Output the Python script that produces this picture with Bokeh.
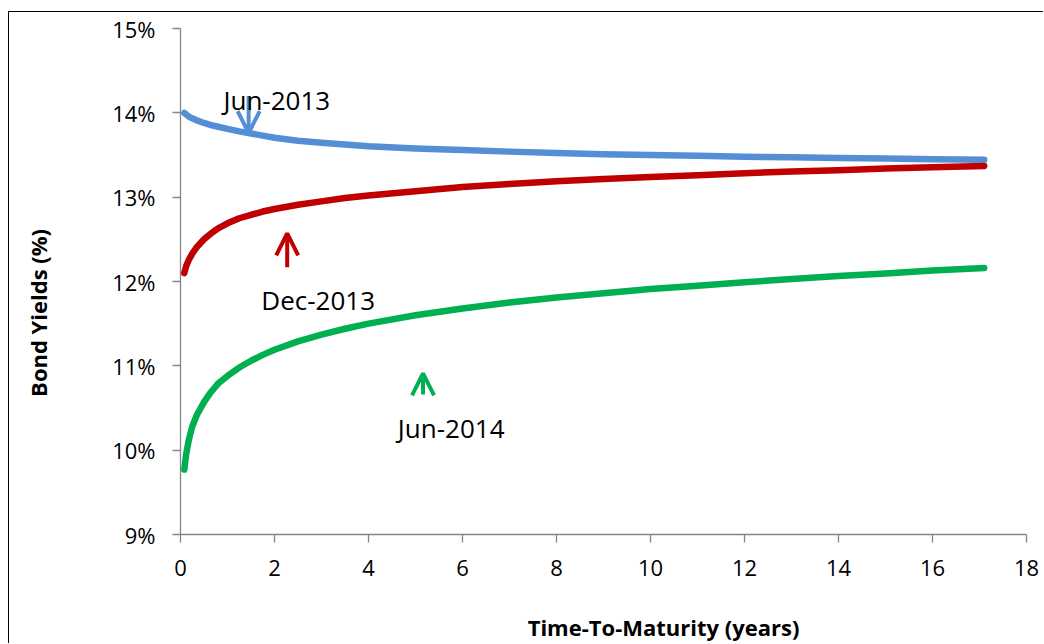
from bokeh.plotting import figure
from bokeh.models import Range1d, Arrow, OpenHead, Label, FixedTicker, PrintfTickFormatter
from bokeh.embed import file_html
from bokeh.resources import INLINE

# Time to maturity (years) at which the yield curves are sampled
maturity = [0.08, 0.12, 0.18, 0.25, 0.35, 0.5, 0.65, 0.8, 1.0, 1.25, 1.5, 1.75,
            2.0, 2.5, 3.0, 3.5, 4.0, 5.0, 6.0, 7.0, 8.0, 9.0, 10.0, 11.0, 12.0,
            13.0, 14.0, 15.0, 16.0, 17.1]

# Bond yields (%) for each curve date
yield_jun_2013 = [14.00, 13.98, 13.955, 13.935, 13.91, 13.88, 13.855, 13.835, 13.81,
                  13.78, 13.755, 13.73, 13.705, 13.67, 13.645, 13.625, 13.605, 13.578,
                  13.558, 13.54, 13.525, 13.51, 13.50, 13.49, 13.48, 13.472, 13.465,
                  13.458, 13.451, 13.445]
yield_dec_2013 = [12.10, 12.18, 12.26, 12.33, 12.41, 12.50, 12.57, 12.63, 12.69,
                  12.75, 12.79, 12.83, 12.86, 12.91, 12.95, 12.99, 13.02, 13.07,
                  13.12, 13.155, 13.19, 13.215, 13.24, 13.26, 13.285, 13.305, 13.32,
                  13.34, 13.355, 13.37]
yield_jun_2014 = [9.77, 9.95, 10.13, 10.28, 10.42, 10.57, 10.69, 10.79, 10.88, 10.98,
                  11.06, 11.13, 11.19, 11.29, 11.37, 11.44, 11.50, 11.60, 11.68,
                  11.75, 11.81, 11.86, 11.91, 11.95, 11.99, 12.03, 12.065, 12.095,
                  12.13, 12.16]

series_names = ["Jun-2013", "Dec-2013", "Jun-2014"]
series_colors = ["#558ED5", "#C00000", "#00B050"]

x_ticks = [0, 2, 4, 6, 8, 10, 12, 14, 16, 18]
y_ticks = [9, 10, 11, 12, 13, 14, 15]

x_title = "Time-To-Maturity (years)"
y_title = "Bond Yields (%)"

FONT = "Open Sans"
NBSP = "\u00a0"

p = figure(width=1035, height=632,
           x_range=Range1d(0, 18), y_range=Range1d(9, 15),
           output_backend="svg", toolbar_location=None,
           min_border_left=171, min_border_right=18,
           min_border_top=16, min_border_bottom=110)
# chart-area border on the left and top edges
p.styles = {"margin-left": "8px", "margin-top": "11px",
            "border-left": "1px solid #000000", "border-top": "1px solid #000000"}

p.outline_line_color = None
p.xgrid.visible = False
p.ygrid.visible = False
p.background_fill_color = "white"
p.border_fill_color = "white"

for ax in (p.xaxis[0], p.yaxis[0]):
    ax.axis_line_color = "#868686"
    ax.axis_line_width = 1.3
    ax.major_tick_line_color = "#868686"
    ax.major_tick_line_width = 1.3
    ax.major_tick_in = 0
    ax.major_tick_out = 8
    ax.minor_tick_line_color = None
    ax.major_label_text_font = FONT
    ax.major_label_text_font_size = "22px"
    ax.major_label_text_color = "#000000"
    ax.axis_label_text_font = FONT
    ax.axis_label_text_font_size = "22px"
    ax.axis_label_text_font_style = "bold"
    ax.axis_label_text_color = "#000000"

p.xaxis.ticker = FixedTicker(ticks=x_ticks)
p.yaxis.ticker = FixedTicker(ticks=y_ticks)
p.yaxis.formatter = PrintfTickFormatter(format="%d%%")
p.yaxis.major_label_standoff = 17
p.xaxis.major_label_standoff = 17

# Axis titles sit off-centre: non-breaking spaces pad them along the axis
p.xaxis.axis_label = NBSP * 21 + x_title
p.yaxis.axis_label = y_title + NBSP * 11
p.xaxis.axis_label_text_line_height = 0.7
p.xaxis.axis_label_standoff = 33
p.yaxis.axis_label_standoff = 56

for ys, color in zip([yield_jun_2013, yield_dec_2013, yield_jun_2014], series_colors):
    p.line(maturity, ys, line_color=color, line_width=6.5,
           line_cap="round", line_join="round")

# Arrows pointing each date label at its curve
arrow_specs = [
    # (x_start, y_start, x_end, y_end)
    (1.45, 14.20, 1.45, 13.76),
    (2.27, 12.17, 2.27, 12.57),
    (5.16, 10.66, 5.16, 10.91),
]
for (xs, ys0, xe, ye), color in zip(arrow_specs, series_colors):
    p.add_layout(Arrow(end=OpenHead(size=22, line_color=color, line_width=4),
                       x_start=xs, y_start=ys0, x_end=xe, y_end=ye,
                       line_color=color, line_width=4))

label_pos = [(2.05, 14.148), (2.93, 11.776), (5.76, 10.257)]
for name, (lx, ly) in zip(series_names, label_pos):
    p.add_layout(Label(x=lx, y=ly, text=name, text_font=FONT,
                       text_font_size="26px", text_color="#000000",
                       text_align="center", text_baseline="alphabetic"))

open("out.html", "w").write(file_html(p, INLINE))
